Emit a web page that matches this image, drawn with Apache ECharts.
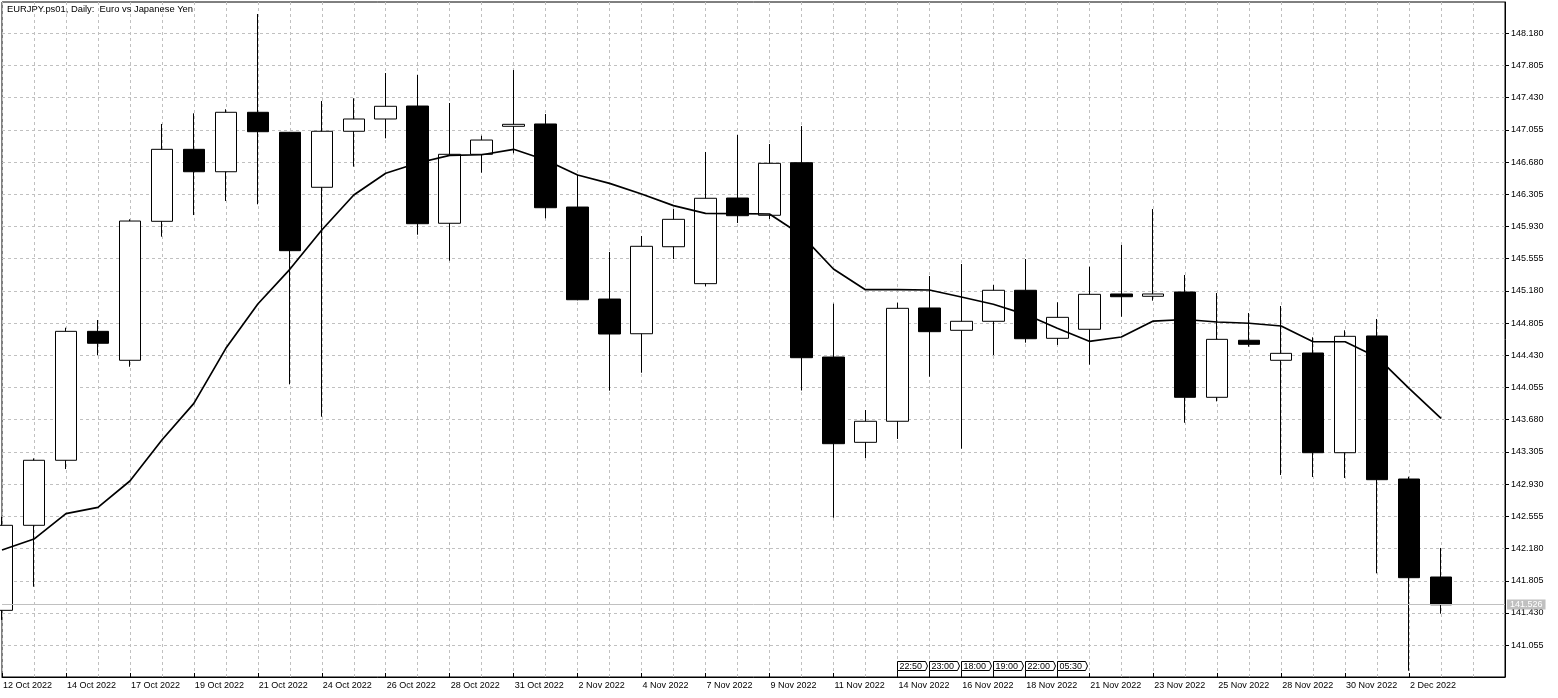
<!DOCTYPE html>
<html><head><meta charset="utf-8">
<script src="https://cdn.jsdelivr.net/npm/echarts@6/dist/echarts.min.js"></script>
<style>html,body{margin:0;padding:0;background:#fff}#c{width:1558px;height:698px}</style>
</head><body><div id="c"></div>
<script>
const titleText = 'EURJPY.ps01, Daily:  Euro vs Japanese Yen';
const categories = ['12 Oct 2022','13 Oct 2022','14 Oct 2022','16 Oct 2022','17 Oct 2022','18 Oct 2022','19 Oct 2022','20 Oct 2022','21 Oct 2022','23 Oct 2022',
  '24 Oct 2022','25 Oct 2022','26 Oct 2022','27 Oct 2022','28 Oct 2022','30 Oct 2022','31 Oct 2022','1 Nov 2022','2 Nov 2022','3 Nov 2022',
  '4 Nov 2022','6 Nov 2022','7 Nov 2022','8 Nov 2022','9 Nov 2022','10 Nov 2022','11 Nov 2022','13 Nov 2022','14 Nov 2022','15 Nov 2022',
  '16 Nov 2022','17 Nov 2022','18 Nov 2022','20 Nov 2022','21 Nov 2022','22 Nov 2022','23 Nov 2022','24 Nov 2022','25 Nov 2022','27 Nov 2022',
  '28 Nov 2022','29 Nov 2022','30 Nov 2022','1 Dec 2022','2 Dec 2022','4 Dec 2022'];
const padCategories = ['', ''];
const opens  = [141.461,142.451,143.208,144.709,144.372,145.990,146.828,146.567,147.259,147.026,
  146.386,147.038,147.181,147.332,145.967,146.770,147.096,147.123,146.156,145.085,
  144.681,145.694,145.264,146.261,146.060,146.672,144.410,143.417,143.662,144.981,
  144.721,144.826,145.187,144.628,144.733,145.144,145.117,145.167,143.941,144.605,
  144.372,144.457,143.296,144.655,142.990,141.849];
const highs  = [142.550,143.230,144.751,144.841,146.013,147.123,147.247,147.294,148.403,147.030,
  147.390,147.422,147.716,147.693,147.367,146.986,147.751,147.239,146.529,145.633,
  145.819,146.133,146.797,146.995,146.890,147.099,145.031,143.793,145.042,145.353,
  145.493,145.248,145.551,145.047,145.461,145.714,146.133,145.365,145.155,144.922,
  145.004,144.640,144.721,144.853,143.017,142.187];
const lows   = [141.350,141.736,143.106,144.430,144.297,145.811,146.063,146.226,146.188,144.092,
  143.715,146.626,146.956,145.834,145.531,146.556,146.782,146.025,145.070,144.018,
  144.227,145.551,145.233,145.970,146.017,144.020,142.539,143.234,143.456,144.181,
  143.343,144.433,144.577,144.550,144.321,144.879,145.066,143.645,143.894,144.530,
  143.037,143.013,143.002,141.892,140.758,141.422];
const closes = [142.451,143.208,144.709,144.570,145.993,146.828,146.567,147.259,147.033,145.648,
  147.038,147.181,147.329,145.962,146.770,146.936,147.119,146.148,145.077,144.678,
  145.699,146.013,146.258,146.055,146.665,144.402,143.401,143.662,144.977,144.705,
  144.826,145.187,144.623,144.872,145.140,145.112,145.144,143.941,144.616,144.558,
  144.453,143.296,144.651,142.982,141.841,141.526];
const maValues = [142.163,142.291,142.586,142.660,142.967,143.444,143.871,144.511,145.027,145.431,
  145.889,146.296,146.549,146.669,146.758,146.765,146.828,146.704,146.529,146.432,
  146.308,146.172,146.083,146.079,146.075,145.830,145.435,145.194,145.194,145.190,
  145.109,145.024,144.907,144.744,144.593,144.643,144.829,144.847,144.818,144.803,
  144.771,144.588,144.588,144.408,144.046,143.697];
const yTicks = [141.055,141.430,141.805,142.180,142.555,142.930,143.305,143.680,144.055,144.430,
  144.805,145.180,145.555,145.930,146.305,146.680,147.055,147.430,147.805,148.180];
const yMin = 140.685, yMax = 148.543;
const eventDates = ['14 Nov 2022','15 Nov 2022','16 Nov 2022','17 Nov 2022','18 Nov 2022','20 Nov 2022'];
const eventTimes = ['22:50','23:00','18:00','19:00','22:00','05:30'];

const FONT = 'Liberation Sans';
const allCats = categories.concat(padCategories);
const candleData = opens.map((o, i) => [o, closes[i], lows[i], highs[i]]);
const lastClose = closes[closes.length - 1];
const labelInterval = (index, value) => index % 2 === 0 && value !== '';

const chart = echarts.init(document.getElementById('c'), null, {renderer: 'canvas'});
chart.setOption({
  animation: false,
  backgroundColor: '#ffffff',
  textStyle: {fontFamily: FONT},
  title: {
    text: titleText, left: 7, top: 5, padding: 0,
    textStyle: {fontSize: 9.4, fontWeight: 'normal', color: '#000', fontFamily: FONT}
  },
  grid: {
    left: 2, top: 2, right: 53, bottom: 21, containLabel: false, outerBoundsMode: 'none',
    show: true, borderColor: '#000', borderWidth: 1, backgroundColor: 'transparent'
  },
  xAxis: {
    type: 'category', data: allCats, boundaryGap: false,
    axisLine: {show: true, lineStyle: {color: '#000', width: 1}},
    axisTick: {show: true, inside: true, length: 4, interval: labelInterval, lineStyle: {color: '#000'}},
    axisLabel: {show: true, interval: labelInterval, align: 'left', margin: 4, fontSize: 9,
      color: '#000', fontFamily: FONT, padding: [0, 0, 0, 1]},
    splitLine: {show: true, interval: 0, lineStyle: {color: '#c0c0c0', type: [3, 3], width: 1}}
  },
  yAxis: {
    type: 'value', position: 'right', min: yMin, max: yMax, scale: true,
    axisLine: {show: true, lineStyle: {color: '#000', width: 1}},
    axisTick: {show: true, length: 4, customValues: yTicks, lineStyle: {color: '#000'}},
    axisLabel: {show: true, customValues: yTicks, formatter: v => v.toFixed(3), fontSize: 9,
      color: '#000', margin: 6, fontFamily: FONT},
    splitLine: {show: true, lineStyle: {color: '#c0c0c0', type: [3, 3], width: 1}}
  },
  series: [
    {
      type: 'candlestick', data: candleData, barWidth: 22, clip: true,
      itemStyle: {color: '#ffffff', color0: '#000000', borderColor: '#000000', borderColor0: '#000000', borderWidth: 1},
      markLine: {
        silent: true, symbol: ['none', 'none'], animation: false,
        lineStyle: {color: '#c0c0c0', type: 'solid', width: 1},
        label: {show: true, position: 'end', distance: 2, formatter: () => lastClose.toFixed(3),
          backgroundColor: '#c0c0c0', color: '#ffffff', fontSize: 9, fontFamily: FONT, padding: [1, 3, 0, 3]},
        emphasis: {disabled: true},
        data: [{yAxis: lastClose}]
      }
    },
    {
      type: 'line', data: maValues, symbol: 'none', z: 3, smooth: false,
      lineStyle: {color: '#000', width: 1.7}
    },
    {
      type: 'custom', z: 4, clip: false,
      data: eventDates.map((d) => [d, yMin]),
      encode: {x: 0, y: 1},
      renderItem: function (params, api) {
        const x = Math.round(api.coord([api.value(0), yMin])[0]) + 0.5;
        const bottom = params.coordSys.y + params.coordSys.height;
        const top = bottom - 15.5;
        const h = 9;
        return {
          type: 'group',
          children: [
            {type: 'line', shape: {x1: x, y1: top + h, x2: x, y2: bottom}, style: {stroke: '#000', lineWidth: 1}},
            {type: 'polygon', shape: {points: [[x, top], [x + 28, top], [x + 30, top + h / 2], [x + 28, top + h], [x, top + h]]},
              style: {stroke: '#000', fill: '#fff', lineWidth: 1}},
            {type: 'text', style: {text: eventTimes[params.dataIndex], x: x + 2, y: top + h / 2 + 0.5,
              verticalAlign: 'middle', align: 'left', font: '9px ' + FONT, fill: '#000'}}
          ]
        };
      }
    }
  ]
});
</script></body></html>
